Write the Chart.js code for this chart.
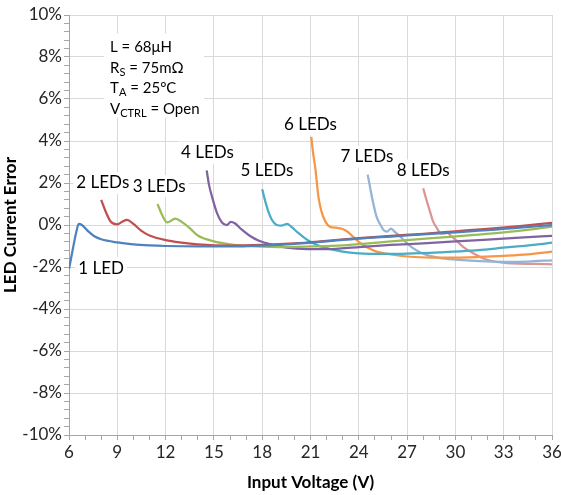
<!DOCTYPE html>
<html>
<head>
<meta charset="utf-8">
<script src="https://cdn.jsdelivr.net/npm/chart.js@4/dist/chart.umd.min.js"></script>
<style>
  html, body { margin: 0; padding: 0; background: #fff; }
  #wrap { width: 561px; height: 495px; }
</style>
</head>
<body>
<div id="wrap"><canvas id="errChart" width="561" height="495"></canvas></div>
<script>
// values: input voltage (V) and LED current error (%)
const v1 = [6.0, 6.15, 6.3, 6.45, 6.6, 6.8, 7.2, 7.6, 8, 9, 10, 11, 12, 14, 16, 18, 20, 22, 24, 26, 28, 30, 32, 34, 36]
const e1 = [-2.1, -1.5, -0.9, -0.35, 0.05, 0.0, -0.3, -0.55, -0.68, -0.83, -0.92, -0.97, -1.0, -1.02, -1.02, -0.98, -0.9, -0.78, -0.65, -0.55, -0.45, -0.35, -0.25, -0.12, 0.0]

const v2 = [8.0, 8.3, 8.6, 9.0, 9.3, 9.6, 10, 10.5, 11, 12, 13, 14, 16, 18, 20, 22, 24, 26, 28, 30, 32, 34, 36]
const e2 = [1.2, 0.6, 0.15, 0.03, 0.15, 0.25, 0.05, -0.28, -0.5, -0.72, -0.84, -0.92, -0.98, -0.95, -0.88, -0.76, -0.63, -0.52, -0.42, -0.3, -0.18, -0.05, 0.1]

const v3 = [11.5, 11.8, 12.1, 12.6, 13, 13.5, 14, 15, 16, 17, 19, 21, 23, 25, 27, 29, 31, 33, 35, 36]
const e3 = [1.0, 0.45, 0.12, 0.3, 0.15, -0.15, -0.5, -0.78, -0.92, -1.0, -1.05, -1.02, -0.97, -0.85, -0.72, -0.6, -0.48, -0.35, -0.18, -0.08]

const v4 = [14.55, 14.7, 14.9, 15.2, 15.5, 15.8, 16.05, 16.3, 16.7, 17.2, 17.8, 18.7, 19.5, 20.8, 22, 24, 26, 28, 30, 32, 34, 36]
const e4 = [2.6, 1.9, 1.3, 0.55, 0.12, 0.0, 0.15, 0.08, -0.2, -0.5, -0.75, -0.95, -1.08, -1.15, -1.15, -1.05, -0.95, -0.87, -0.78, -0.7, -0.6, -0.52]

const v5 = [18.0, 18.2, 18.4, 18.6, 18.9, 19.2, 19.55, 19.8, 20.2, 20.6, 21, 21.5, 22, 23, 24, 25.5, 27, 29, 31, 33, 35, 36]
const e5 = [1.7, 1.1, 0.6, 0.25, 0.0, -0.03, 0.05, -0.08, -0.35, -0.6, -0.8, -0.98, -1.1, -1.27, -1.35, -1.38, -1.36, -1.3, -1.22, -1.08, -0.93, -0.84]

const v6 = [21.05, 21.15, 21.3, 21.5, 21.7, 21.9, 22.2, 22.6, 22.95, 23.3, 23.7, 24.1, 24.6, 25.1, 26, 27, 28.5, 30, 31.5, 33, 34.5, 36]
const e6 = [4.2, 3.5, 2.7, 1.3, 0.6, 0.2, -0.08, -0.13, -0.18, -0.32, -0.6, -0.87, -1.1, -1.27, -1.4, -1.5, -1.55, -1.55, -1.52, -1.47, -1.4, -1.27]

const v7 = [24.55, 24.7, 24.85, 25.1, 25.35, 25.55, 25.75, 26.0, 26.2, 26.5, 26.9, 27.3, 27.8, 28.3, 29, 30, 31.5, 33, 34.5, 36]
const e7 = [2.4, 1.8, 1.2, 0.4, 0.0, -0.25, -0.32, -0.17, -0.3, -0.5, -0.8, -1.07, -1.3, -1.45, -1.57, -1.65, -1.72, -1.75, -1.74, -1.68]

const v8 = [28.0, 28.2, 28.4, 28.6, 28.85, 29.1, 29.3, 29.5, 29.7, 30, 30.5, 31, 31.7, 32.5, 33.5, 35, 36]
const e8 = [1.75, 1.2, 0.7, 0.2, -0.15, -0.4, -0.4, -0.38, -0.5, -0.7, -1.05, -1.3, -1.58, -1.75, -1.83, -1.85, -1.87]

const seriesNames = ['1 LED', '2 LEDs', '3 LEDs', '4 LEDs', '5 LEDs', '6 LEDs', '7 LEDs', '8 LEDs']
const colors = ['#4F81BD', '#C0504D', '#9BBB59', '#8064A2', '#4BACC6', '#F79646', '#95B3D7', '#D99694']

// where each curve label sits (V, %)
const labelX = [8.0, 8.1, 11.6, 14.6, 18.3, 21.0, 24.5, 28.0]
const labelY = [-2.05, 2.0, 1.85, 3.45, 2.6, 4.8, 3.25, 2.6]

const fontName = "Lato, 'Open Sans', sans-serif"

const toPoints = (xs, ys) => xs.map((x, i) => ({ x: x, y: ys[i] }))
const allV = [v1, v2, v3, v4, v5, v6, v7, v8]
const allE = [e1, e2, e3, e4, e5, e6, e7, e8]

const datasets = allV.map((xs, i) => ({
    label: seriesNames[i],
    data: toPoints(xs, allE[i]),
    borderColor: colors[i],
    backgroundColor: colors[i],
    borderWidth: 2.25,
    pointRadius: 0,
    cubicInterpolationMode: 'monotone',
    fill: false
}))

// draws a line of text made of pieces, some of them subscript
const drawPieces = (ctx, pieces, x, y, size) => {
    let cx = x
    for (const p of pieces) {
        const fs = p.sub ? Math.round(size * 0.7) : size
        ctx.font = fs + 'px ' + fontName
        ctx.fillText(p.t, cx, p.sub ? y + size * 0.28 : y)
        cx += ctx.measureText(p.t).width
    }
}

const annotations = {
    id: 'annotations',
    beforeDatasetsDraw(chart) {
        const ctx = chart.ctx
        const xs = chart.scales.x
        const ys = chart.scales.y
        ctx.save()
        ctx.textBaseline = 'middle'
        ctx.fillStyle = '#000'
        ctx.font = '17px ' + fontName
        for (let i = 0; i < seriesNames.length; i++) {
            const px = xs.getPixelForValue(labelX[i])
            const py = ys.getPixelForValue(labelY[i])
            const w = ctx.measureText(seriesNames[i]).width
            ctx.fillStyle = '#fff'
            ctx.fillRect(px - w / 2 - 3, py - 11, w + 6, 22)
            ctx.fillStyle = '#000'
            ctx.textAlign = 'center'
            ctx.fillText(seriesNames[i], px, py)
        }

        // conditions box
        const bx = xs.getPixelForValue(8.55)
        const by = ys.getPixelForValue(8.45)
        ctx.fillStyle = '#fff'
        ctx.fillRect(bx - 6, by - 14, 100, 84)
        ctx.fillStyle = '#000'
        ctx.textAlign = 'left'
        const lines = [
            [{ t: 'L = 68μH' }],
            [{ t: 'R' }, { t: 'S', sub: true }, { t: ' = 75mΩ' }],
            [{ t: 'T' }, { t: 'A', sub: true }, { t: ' = 25°C' }],
            [{ t: 'V' }, { t: 'CTRL', sub: true }, { t: ' = Open' }]
        ]
        lines.forEach((ln, k) => drawPieces(ctx, ln, bx, by + k * 20.5, 15))
        ctx.restore()
    }
}

const isMajor = (v, step) => Math.abs(v / step - Math.round(v / step)) < 1e-6

const ctx = document.getElementById('errChart')

new Chart(ctx, {
    type: 'line',
    data: { datasets: datasets },
    plugins: [annotations],
    options: {
        responsive: false,
        animation: false,
        layout: { padding: { top: 15, right: 9, left: 0, bottom: 0 } },
        plugins: {
            legend: { display: false },
            tooltip: { enabled: false }
        },
        scales: {
            x: {
                type: 'linear',
                min: 6,
                max: 36,
                afterFit: (s) => { s.height = 60; s.paddingRight = 0 },
                border: { color: '#A6A6A6' },
                grid: {
                    color: (c) => isMajor(c.tick.value, 3) ? '#D9D9D9' : 'rgba(0,0,0,0)',
                    tickColor: '#A6A6A6',
                    tickLength: 5
                },
                ticks: {
                    stepSize: 1,
                    autoSkip: false,
                    maxRotation: 0,
                    color: '#262626',
                    font: { family: fontName, size: 17 },
                    padding: 2,
                    callback: (v) => isMajor(v, 3) ? String(v) : ''
                },
                title: {
                    display: true,
                    text: 'Input Voltage (V)',
                    color: '#000',
                    font: { family: fontName, size: 17, weight: 'bold' },
                    padding: { top: 0, bottom: 2 }
                }
            },
            y: {
                min: -10,
                max: 10,
                afterFit: (s) => { s.width = 69 },
                border: { color: '#A6A6A6' },
                grid: {
                    color: (c) => isMajor(c.tick.value, 2) ? '#D9D9D9' : 'rgba(0,0,0,0)',
                    tickColor: '#A6A6A6',
                    tickLength: 5
                },
                ticks: {
                    stepSize: 0.4,
                    autoSkip: false,
                    color: '#262626',
                    font: { family: fontName, size: 17 },
                    padding: 2,
                    callback: (v) => isMajor(v, 2) ? Math.round(v) + '%' : ''
                },
                title: {
                    display: true,
                    text: 'LED Current Error',
                    color: '#000',
                    font: { family: fontName, size: 17, weight: 'bold' },
                    padding: { top: 0, bottom: 0 }
                }
            }
        }
    }
});
</script>
</body>
</html>
